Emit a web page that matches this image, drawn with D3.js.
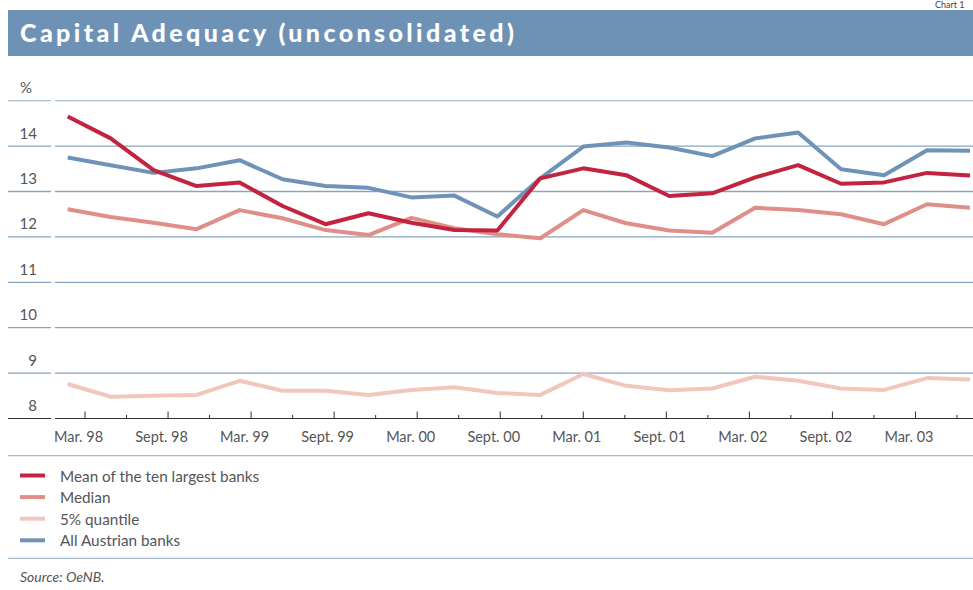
<!DOCTYPE html>
<html>
<head>
<meta charset="utf-8">
<script src="https://cdn.jsdelivr.net/npm/d3@7"></script>
<style>
  html, body { margin: 0; padding: 0; background: #fff; }
  svg { display: block; }
  text { font-family: Lato, "Open Sans", sans-serif; }
</style>
</head>
<body>
<div id="chart"></div>
<script>
// quarterly observations, Mar. 98 .. June 03
const quarters = d3.range(22);
const tickLabels = ["Mar. 98", "Sept. 98", "Mar. 99", "Sept. 99", "Mar. 00", "Sept. 00",
  "Mar. 01", "Sept. 01", "Mar. 02", "Sept. 02", "Mar. 03"];
const yTicks = [8, 9, 10, 11, 12, 13, 14, 15];

const meanTop10 = [14.65, 14.17, 13.47, 13.12, 13.2, 12.68, 12.28, 12.52, 12.31, 12.15, 12.14,
  13.29, 13.51, 13.36, 12.9, 12.96, 13.31, 13.58, 13.17, 13.2, 13.41, 13.35];
const median = [12.61, 12.44, 12.31, 12.17, 12.59, 12.41, 12.15, 12.04, 12.42, 12.19, 12.06,
  11.97, 12.59, 12.3, 12.14, 12.09, 12.64, 12.59, 12.5, 12.28, 12.72, 12.64];
const quantile5 = [8.76, 8.48, 8.5, 8.52, 8.83, 8.61, 8.61, 8.52, 8.63, 8.69, 8.56,
  8.52, 8.98, 8.72, 8.62, 8.66, 8.92, 8.83, 8.66, 8.63, 8.89, 8.86];
const allBanks = [13.75, 13.58, 13.41, 13.51, 13.69, 13.27, 13.12, 13.08, 12.87, 12.91, 12.45,
  13.29, 13.99, 14.08, 13.97, 13.78, 14.17, 14.3, 13.49, 13.36, 13.91, 13.9];

const seriesNames = ["Mean of the ten largest banks", "Median", "5% quantile", "All Austrian banks"];
const seriesColors = ["#c2233f", "#df8f88", "#f1c6bd", "#6f93b6"];
const seriesValues = [meanTop10, median, quantile5, allBanks];
// draw order: blue behind, reds on top
const drawOrder = [3, 2, 1, 0];

const W = 973, H = 590;

const svg = d3.select("#chart").append("svg")
  .attr("width", W)
  .attr("height", H);

// title bar
svg.append("rect")
  .attr("x", 8).attr("y", 10)
  .attr("width", W - 8).attr("height", 46)
  .attr("fill", "#6e92b5");

svg.append("text")
  .attr("x", 20).attr("y", 42)
  .attr("fill", "#fff")
  .style("font-size", "25px")
  .style("font-weight", 900)
  .style("letter-spacing", "3.4px")
  .text("Capital Adequacy (unconsolidated)");

svg.append("text")
  .attr("x", 935).attr("y", 8)
  .attr("fill", "#444")
  .style("font-size", "9px")
  .text("Chart 1");

// scales
const y = d3.scaleLinear().domain([8, 15]).range([418.5, 100.7]);
const x = d3.scaleLinear().domain([0, 21]).range([67.7, 970]);
const xTick = d3.scaleLinear().domain([0, 21]).range([85, 957]);

// gridlines (left stub + main part)
const grid = svg.append("g");
yTicks.forEach(v => {
  const col = v === 8 ? "#333" : (v === 15 ? "#a9bdd1" : "#86a4c2");
  grid.append("line")
    .attr("x1", 8).attr("x2", 51)
    .attr("y1", y(v)).attr("y2", y(v))
    .attr("stroke", col).attr("stroke-width", v === 8 ? 1.2 : 1.3);
  grid.append("line")
    .attr("x1", 55).attr("x2", W)
    .attr("y1", y(v)).attr("y2", y(v))
    .attr("stroke", col).attr("stroke-width", v === 8 ? 1.2 : 1.3);
});

// y labels sit above their gridline
svg.append("g").selectAll("text")
  .data(yTicks)
  .join("text")
  .attr("x", d => d === 15 ? 20 : 37)
  .attr("y", d => y(d) - 7.5)
  .attr("text-anchor", d => d === 15 ? "start" : "end")
  .attr("fill", "#555")
  .style("font-size", "15px")
  .text(d => d === 15 ? "%" : d);

// x ticks (upwards from the axis)
svg.append("g").selectAll("line")
  .data(quarters)
  .join("line")
  .attr("x1", d => xTick(d)).attr("x2", d => xTick(d))
  .attr("y1", y(8))
  .attr("y2", d => d % 2 === 0 ? y(8) - 7 : y(8) - 3.5)
  .attr("stroke", "#333").attr("stroke-width", 1);

svg.append("g").selectAll("text")
  .data(tickLabels)
  .join("text")
  .attr("x", (d, i) => xTick(i * 2) - 6.5)
  .attr("y", 442)
  .attr("text-anchor", "middle")
  .attr("fill", "#555")
  .style("font-size", "14.5px")
  .text(d => d);

// lines
const line = d3.line()
  .x((d, i) => x(i))
  .y(d => y(d));

svg.append("g").selectAll("path")
  .data(drawOrder)
  .join("path")
  .attr("d", k => line(seriesValues[k]))
  .attr("fill", "none")
  .attr("stroke", k => seriesColors[k])
  .attr("stroke-width", 4)
  .attr("stroke-linejoin", "round");

// legend
svg.append("line")
  .attr("x1", 8).attr("x2", W)
  .attr("y1", 455.7).attr("y2", 455.7)
  .attr("stroke", "#a9bdd1").attr("stroke-width", 1.3);

const leg = svg.append("g").selectAll("g")
  .data(seriesNames)
  .join("g")
  .attr("transform", (d, i) => `translate(0,${475.5 + i * 21.6})`);

leg.append("line")
  .attr("x1", 20).attr("x2", 45)
  .attr("stroke", (d, i) => seriesColors[i])
  .attr("stroke-width", 4);

leg.append("text")
  .attr("x", 60).attr("y", 6)
  .attr("fill", "#555")
  .style("font-size", "15.3px")
  .text(d => d);

svg.append("line")
  .attr("x1", 8).attr("x2", W)
  .attr("y1", 558.3).attr("y2", 558.3)
  .attr("stroke", "#a9bdd1").attr("stroke-width", 1.3);

svg.append("text")
  .attr("x", 20).attr("y", 582)
  .attr("fill", "#555")
  .style("font-size", "14px")
  .style("font-style", "italic")
  .text("Source: OeNB.");
</script>
</body>
</html>
